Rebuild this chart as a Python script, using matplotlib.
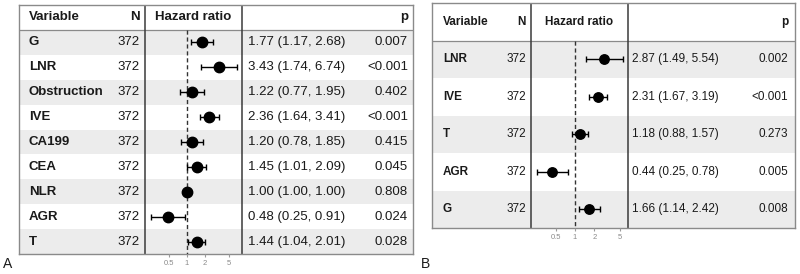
import matplotlib.pyplot as plt
import matplotlib.ticker as mticker

plt.rcParams['font.family'] = ['Liberation Sans', 'DejaVu Sans']

# panel A data
vars_a = ["G", "LNR", "Obstruction", "IVE", "CA199", "CEA", "NLR", "AGR", "T"]
n_a = [372, 372, 372, 372, 372, 372, 372, 372, 372]
hr_a = [1.77, 3.43, 1.22, 2.36, 1.20, 1.45, 1.00, 0.48, 1.44]
lo_a = [1.17, 1.74, 0.77, 1.64, 0.78, 1.01, 1.00, 0.25, 1.04]
hi_a = [2.68, 6.74, 1.95, 3.41, 1.85, 2.09, 1.00, 0.91, 2.01]
p_a = ["0.007", "<0.001", "0.402", "<0.001", "0.415", "0.045", "0.808", "0.024", "0.028"]

# panel B data
vars_b = ["LNR", "IVE", "T", "AGR", "G"]
n_b = [372, 372, 372, 372, 372]
hr_b = [2.87, 2.31, 1.18, 0.44, 1.66]
lo_b = [1.49, 1.67, 0.88, 0.25, 1.14]
hi_b = [5.54, 3.19, 1.57, 0.78, 2.42]
p_b = ["0.002", "<0.001", "0.273", "0.005", "0.008"]

ticks = [0.5, 1, 2, 5]

W, H = 800, 274
fig = plt.figure(figsize=(W / 100, H / 100), dpi=100)

TXT = '#1a1a1a'
STRIPE = '#ececec'


def panel(box, cols, xlim, names, ns, hr, lo, hi, pv, fs, ms):
    left, top, right, bottom = box
    rect = [left / W, 1 - bottom / H, (right - left) / W, (bottom - top) / H]
    nrow = len(names)
    ax = fig.add_axes(rect)
    ax.set_xlim(0, 1)
    ax.set_ylim(nrow + 1, 0)
    ax.set_xticks([])
    ax.set_yticks([])
    for s in ax.spines.values():
        s.set_color('#8a8a8a')
        s.set_linewidth(1.0)
    for i in range(nrow):
        if i % 2 == 0:
            ax.axhspan(i + 1, i + 2, color=STRIPE, lw=0, zorder=0)
    ax.axhline(1, color='#8a8a8a', lw=0.9)
    c_var, c_n, s1, s2, c_ci, c_p = cols
    ax.axvline(s1, color='#3a3a3a', lw=1.1)
    ax.axvline(s2, color='#3a3a3a', lw=1.1)

    ax.text(c_var, 0.5, "Variable", fontsize=fs, fontweight='bold', ha='left', va='center', color=TXT)
    ax.text(c_n, 0.5, "N", fontsize=fs, fontweight='bold', ha='right', va='center', color=TXT)
    ax.text((s1 + s2) / 2, 0.5, "Hazard ratio", fontsize=fs, fontweight='bold', ha='center', va='center', color=TXT)
    ax.text(c_p, 0.5, "p", fontsize=fs, fontweight='bold', ha='right', va='center', color=TXT)
    for i in range(nrow):
        y = i + 1.5
        ax.text(c_var, y, names[i], fontsize=fs, fontweight='bold', ha='left', va='center', color=TXT)
        ax.text(c_n, y, str(ns[i]), fontsize=fs, ha='right', va='center', color=TXT)
        ax.text(c_ci, y, f"{hr[i]:.2f} ({lo[i]:.2f}, {hi[i]:.2f})", fontsize=fs, ha='left', va='center', color=TXT)
        ax.text(c_p, y, pv[i], fontsize=fs, ha='right', va='center', color=TXT)

    # forest column
    fx = left + s1 * (right - left)
    fw = (s2 - s1) * (right - left)
    fa = fig.add_axes([fx / W, rect[1], fw / W, rect[3]])
    fa.patch.set_alpha(0)
    fa.set_xscale('log')
    fa.set_xlim(*xlim)
    fa.set_ylim(nrow + 1, 0)
    for s in fa.spines.values():
        s.set_visible(False)
    fa.vlines(1, 1, nrow + 1, colors='#333333', linestyles=(0, (3, 2)), lw=1.0)
    ys = [i + 1.5 for i in range(nrow)]
    xerr = [[h - l for h, l in zip(hr, lo)], [u - h for h, u in zip(hr, hi)]]
    fa.errorbar(hr, ys, xerr=xerr, fmt='o', color='black', ms=ms, lw=1.0,
                capsize=2.2, capthick=1.0, zorder=3)
    fa.set_yticks([])
    fa.xaxis.set_major_locator(mticker.FixedLocator(ticks))
    fa.xaxis.set_minor_locator(mticker.NullLocator())
    fa.set_xticklabels([str(t) for t in ticks])
    fa.tick_params(axis='x', length=2.5, width=0.8, color='#9a9a9a', labelcolor='#8a8a8a',
                   labelsize=5.5, pad=1.5, direction='out')
    return ax


panel((19, 5, 413, 254), (0.025, 0.307, 0.320, 0.566, 0.581, 0.987), (0.2, 8.25),
      vars_a, n_a, hr_a, lo_a, hi_a, p_a, 9.5, 7.5)
panel((432, 3, 795, 228), (0.030, 0.259, 0.273, 0.540, 0.550, 0.981), (0.205, 6.73),
      vars_b, n_b, hr_b, lo_b, hi_b, p_b, 8.5, 6.8)

fig.text(8 / W, 1 - 264 / H, "A", fontsize=10, ha='center', va='center', color=TXT)
fig.text(425 / W, 1 - 264 / H, "B", fontsize=10, ha='center', va='center', color=TXT)

fig.savefig('out.png', dpi=100, facecolor='white')
